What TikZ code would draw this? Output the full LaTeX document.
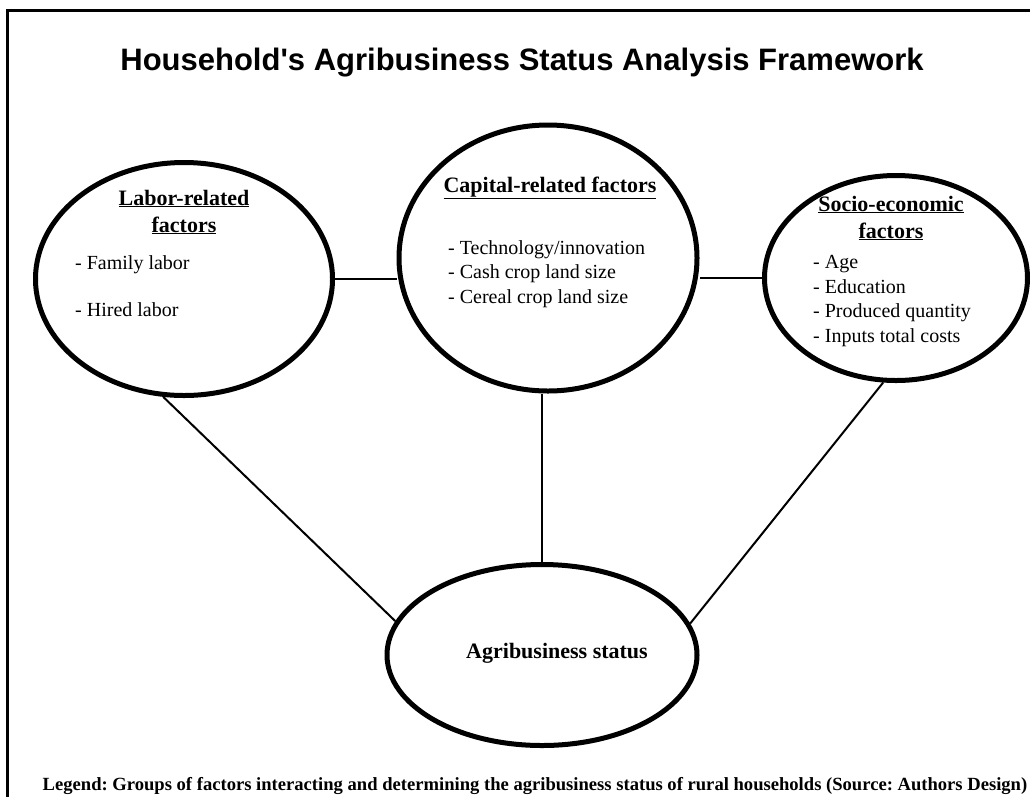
\documentclass[tikz,border=0pt]{standalone}
\usepackage{fontspec}
\setmainfont{Liberation Serif}
\newfontfamily\titlefont{Liberation Sans}
\usetikzlibrary{shapes.geometric}
\frenchspacing
\tikzstyle{group}=[ellipse,draw,line width=5pt,inner sep=0pt]
\tikzstyle{link}=[draw,line width=2pt]
\tikzstyle{head}=[font=\fontsize{22}{27}\selectfont\bfseries,align=center,inner sep=0pt]
\tikzstyle{items}=[font=\fontsize{20}{24.5}\selectfont,align=left,anchor=west,inner sep=0pt]

\begin{document}
\begin{tikzpicture}[x=1pt,y=-1pt]
   \useasboundingbox (0,0) rectangle (1030,796);
   \draw[line width=3pt] (1040,10) -- (7,10) -- (7,806);
   \node[font=\titlefont\fontsize{31}{37}\selectfont\bfseries] (title) at (522,63)
        {Household's Agribusiness Status Analysis Framework};
   \foreach \pos/\name/\w/\h in {{(184,279)/labor/297/233}, {(548,258)/capital/298/266},
                                 {(896,278)/socio/263/205}, {(542,655)/status/310/181}}
        \node[group,minimum width=\w pt,minimum height=\h pt] (\name) at \pos {};
    % group headings
    \node[head] (laborhead) at (184,212) {\underline{Labor-related}\\\underline{factors}};
    \node[head] (capitalhead) at (550,188) {\underline{Capital-related factors}};
    \node[head] (sociohead) at (891,218) {\underline{Socio-economic}\\\underline{factors}};
    \node[head] (statustext) at (557,653) {Agribusiness status};
    % factor lists
    \node[items] (laboritems) at (75,286) {- Family labor\\[23pt]- Hired labor};
    \node[items] (capitalitems) at (448,274) {- Technology/innovation\\- Cash crop land size\\- Cereal crop land size};
    \node[items] (socioitems) at (813,301) {- Age\\- Education\\- Produced quantity\\- Inputs total costs};
    % links between the groups
    \path[link] (labor.east) -- (labor.east -| capital.west);
    \path[link] (socio.west) -- (socio.west -| capital.east);
    \path[link] (status.north) -- (status.north |- capital.south);
    \path[link] (labor.-100) -- (status.167);
    \path[link] (socio.-97) -- (status.12);
    \node[font=\fontsize{18.6}{22}\selectfont\bfseries] (legend) at (535,786)
        {Legend: Groups of factors interacting and determining the agribusiness status of rural households (Source: Authors Design)};
\end{tikzpicture}
\end{document}
